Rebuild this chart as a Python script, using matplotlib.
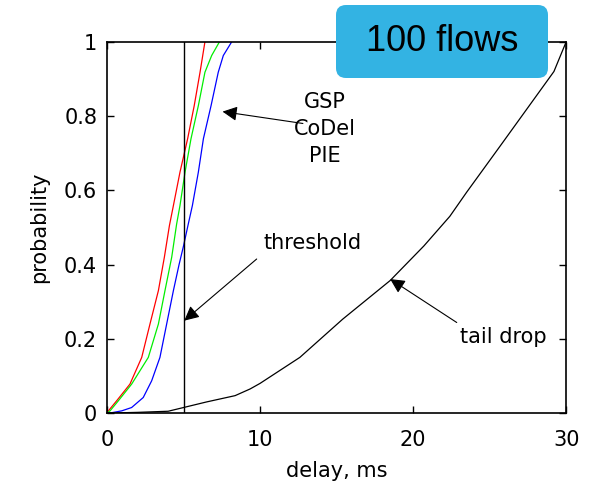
import matplotlib
matplotlib.use('Agg')
import matplotlib.pyplot as plt
from matplotlib.patches import FancyBboxPatch

# CDF curves (delay in ms, probability)
red_x = [0, 0.09, 0.63, 1.5, 2.27, 2.81, 3.36, 3.75, 4.08, 4.34, 4.77, 5.27,
         5.7, 6.08, 6.4]
red_y = [0, 0.006, 0.033, 0.078, 0.15, 0.24, 0.33, 0.42, 0.505, 0.559, 0.649,
         0.739, 0.828, 0.918, 1.0]

green_x = [0, 0.2, 0.74, 1.61, 2.7, 3.36, 3.79, 4.23, 4.55, 4.77, 5.1, 5.49,
           5.97, 6.4, 6.84, 7.35]
green_y = [0, 0.006, 0.033, 0.078, 0.15, 0.24, 0.33, 0.42, 0.509, 0.559, 0.649,
           0.739, 0.828, 0.918, 0.963, 1.0]

blue_x = [0, 0.3, 0.96, 1.61, 2.37, 2.92, 3.46, 3.9, 4.34, 4.71, 5.0, 5.3,
          5.58, 5.97, 6.3, 6.8, 7.27, 7.6, 8.15]
blue_y = [0, 0.001, 0.006, 0.015, 0.042, 0.087, 0.15, 0.24, 0.33, 0.40, 0.45,
          0.507, 0.559, 0.649, 0.739, 0.828, 0.918, 0.963, 1.0]

tail_x = [0, 2, 4, 5, 6.5, 8.37, 9.35, 10, 12.6, 15.4, 18.5, 20.7, 22.4, 23.5,
          25.7, 27.8, 29.2, 29.8, 30]
tail_y = [0, 0.002, 0.005, 0.015, 0.03, 0.047, 0.065, 0.08, 0.15, 0.253, 0.357,
          0.45, 0.53, 0.595, 0.72, 0.84, 0.92, 0.98, 1.0]

threshold = 5
xticks = [0, 10, 20, 30]
yticks = [0, 0.2, 0.4, 0.6, 0.8, 1]
yticklabels = ['0', '0.2', '0.4', '0.6', '0.8', '1']

fig = plt.figure(figsize=(5.91, 4.86), dpi=100)
ax = fig.add_axes([0.181, 0.150, 0.777, 0.764])

ax.plot(red_x, red_y, color='red', lw=0.9)
ax.plot(green_x, green_y, color='#00ee00', lw=0.9)
ax.plot(blue_x, blue_y, color='blue', lw=0.9)
ax.plot(tail_x, tail_y, color='black', lw=0.9)
ax.plot([threshold, threshold], [0, 1], color='black', lw=1.0)

ax.set_xlim(0, 30)
ax.set_ylim(0, 1)
ax.set_xticks(xticks)
ax.set_yticks(yticks)
ax.set_yticklabels(yticklabels)
ax.tick_params(direction='in', top=True, right=True, length=5, width=1,
               labelsize=15, pad=7)
ax.tick_params(axis='x', pad=12)
for s in ax.spines.values():
    s.set_linewidth(1.2)

ax.set_xlabel('delay, ms', fontsize=15, labelpad=8)
ax.set_ylabel('probability', fontsize=15, labelpad=11)

aprops = dict(arrowstyle='-|>', color='black', lw=0.8, mutation_scale=22,
              shrinkA=0, shrinkB=0)
ax.annotate('', xy=(7.55, 0.812), xytext=(12.8, 0.78), arrowprops=aprops)
ax.text(14.25, 0.765, 'GSP\nCoDel\nPIE', ha='center', va='center',
        fontsize=15, linespacing=1.45)

ax.annotate('', xy=(5.05, 0.249), xytext=(9.78, 0.415), arrowprops=aprops)
ax.text(13.4, 0.458, 'threshold', ha='center', va='center', fontsize=15)

ax.annotate('', xy=(18.5, 0.361), xytext=(22.85, 0.244), arrowprops=aprops)
ax.text(25.9, 0.205, 'tail drop', ha='center', va='center', fontsize=15)

# "100 flows" badge, placed in inches
box = FancyBboxPatch((3.36, 4.08), 2.12, 0.73,
                     boxstyle='round,pad=0,rounding_size=0.1',
                     transform=fig.dpi_scale_trans,
                     facecolor='#33b3e3', edgecolor='none', zorder=5)
fig.add_artist(box)
fig.text(4.42, 4.445, '100 flows', transform=fig.dpi_scale_trans,
         ha='center', va='center', fontsize=26, family='Liberation Sans',
         zorder=6)

fig.savefig('out.png', dpi=100)
